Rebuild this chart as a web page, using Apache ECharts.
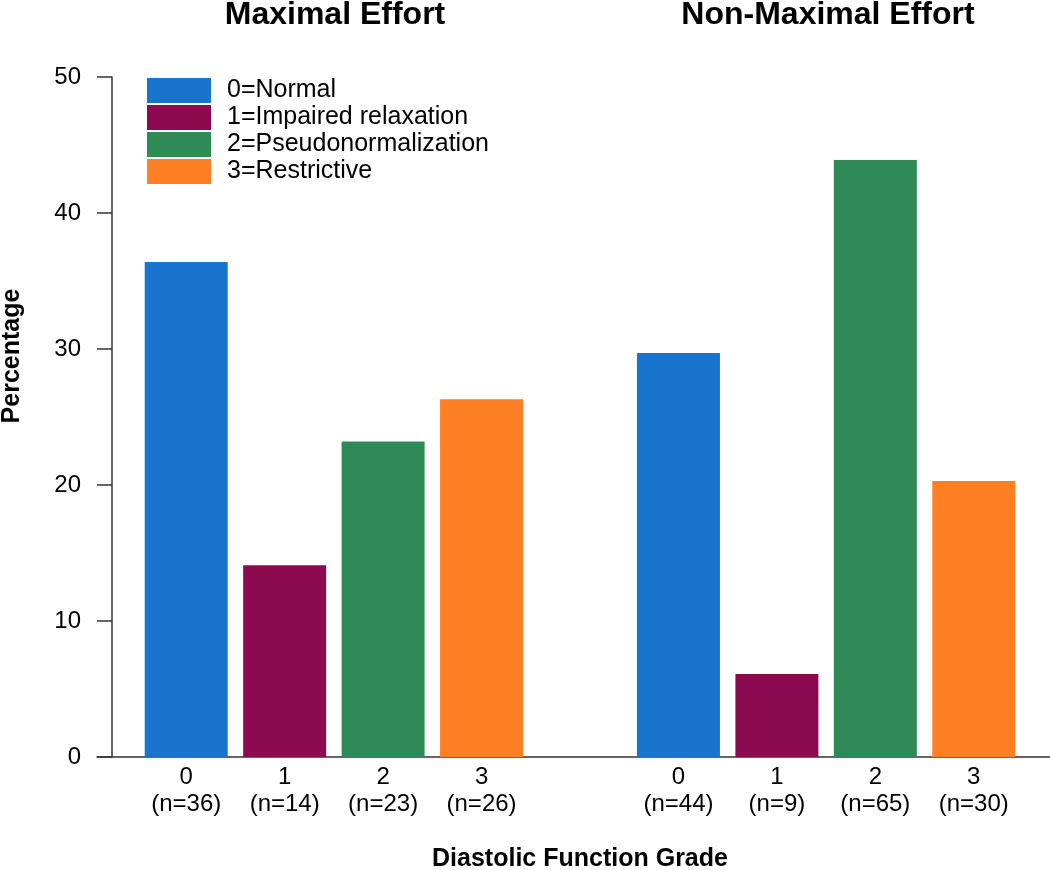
<!DOCTYPE html>
<html>
<head>
<meta charset="utf-8">
<script src="https://cdn.jsdelivr.net/npm/echarts@6/dist/echarts.min.js"></script>
<style>
html,body{margin:0;padding:0;background:#fff;}
#chart{width:1050px;height:870px;}
</style>
</head>
<body>
<div id="chart"></div>
<script>
var grades = ['0', '1', '2', '3'];
var gradeNames = ['0=Normal', '1=Impaired relaxation', '2=Pseudonormalization', '3=Restrictive'];
var maxN = [36, 14, 23, 26];
var nonMaxN = [44, 9, 65, 30];
var maxPct = [36.4, 14.1, 23.2, 26.3];
var nonMaxPct = [29.7, 6.1, 43.9, 20.3];
var groupTitles = ['Maximal Effort', 'Non-Maximal Effort'];
var colors = ['#1874CD', '#8B0A50', '#2E8B57', '#FF7F24'];
var yTicks = [0, 10, 20, 30, 40, 50];

var categories = [];
grades.forEach(function (g, i) { categories.push(g + '\n(n=' + maxN[i] + ')'); });
categories.push('');
grades.forEach(function (g, i) { categories.push(g + '\n(n=' + nonMaxN[i] + ')'); });

var series = grades.map(function (g, i) {
  var d = categories.map(function () { return '-'; });
  d[i] = maxPct[i];
  d[5 + i] = nonMaxPct[i];
  return {
    name: gradeNames[i],
    type: 'bar',
    stack: 'all',
    xAxisIndex: 0,
    yAxisIndex: 0,
    barWidth: 83,
    itemStyle: { color: colors[i] },
    data: d,
    silent: true
  };
});

var chart = echarts.init(document.getElementById('chart'), null, { renderer: 'canvas' });
var FONT = '"Liberation Sans", Arial, sans-serif';
chart.setOption({
  animation: false,
  backgroundColor: '#fff',
  textStyle: { fontFamily: FONT },
  grid: [
    { left: 137, right: 27, top: 77, bottom: 113 },
    { left: 97, right: 0, top: 77, bottom: 113 }
  ],
  legend: {
    orient: 'vertical',
    left: 147,
    top: 78,
    padding: 0,
    itemWidth: 64,
    itemHeight: 25,
    itemGap: 2,
    icon: 'rect',
    selectedMode: false,
    data: gradeNames,
    textStyle: { fontSize: 25, color: '#000', fontFamily: FONT, padding: [0, 0, 0, 11] }
  },
  xAxis: [
    {
      type: 'category',
      gridIndex: 0,
      data: categories,
      boundaryGap: true,
      axisLine: { show: false },
      axisTick: { show: false },
      axisLabel: { interval: 0, fontSize: 24, lineHeight: 27, color: '#000', margin: 7, fontFamily: FONT }
    },
    {
      type: 'value',
      gridIndex: 1,
      min: 0, max: 1,
      axisLine: { show: true, onZero: false, lineStyle: { color: '#333', width: 1.5 } },
      axisTick: { show: false },
      axisLabel: { show: false },
      splitLine: { show: false }
    }
  ],
  yAxis: [
    {
      type: 'value',
      gridIndex: 0,
      min: 0, max: 50, interval: 10,
      offset: 25,
      axisLine: { show: true, lineStyle: { color: '#333', width: 1.5 } },
      axisTick: { show: true, length: 15, lineStyle: { color: '#333', width: 1.5 } },
      axisLabel: { fontSize: 24, color: '#000', margin: 31, fontFamily: FONT,
        formatter: function (v) { return yTicks.indexOf(v) >= 0 ? String(v) : ''; } },
      splitLine: { show: false }
    },
    {
      type: 'value', gridIndex: 1, min: 0, max: 1, show: false
    }
  ],
  graphic: [
    { type: 'text', x: 335, y: 15, style: { text: groupTitles[0], font: 'bold 32px ' + FONT, fill: '#000', textAlign: 'center', textVerticalAlign: 'middle' } },
    { type: 'text', x: 828, y: 15, style: { text: groupTitles[1], font: 'bold 32px ' + FONT, fill: '#000', textAlign: 'center', textVerticalAlign: 'middle' } },
    { type: 'text', x: 580, y: 859, style: { text: 'Diastolic Function Grade', font: 'bold 25px ' + FONT, fill: '#000', textAlign: 'center', textVerticalAlign: 'middle' } },
    { type: 'text', x: 12, y: 356, rotation: Math.PI / 2, style: { text: 'Percentage', font: 'bold 25px ' + FONT, fill: '#000', textAlign: 'center', textVerticalAlign: 'middle' } }
  ],
  series: series
});
</script>
</body>
</html>
